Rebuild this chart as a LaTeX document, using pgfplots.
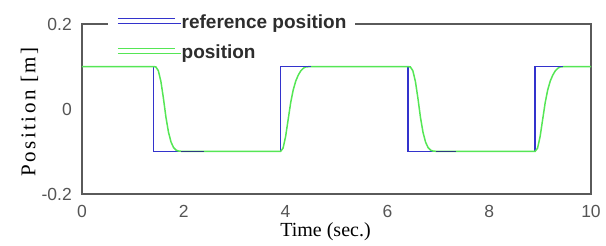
\documentclass[border=0pt]{standalone}
\usepackage{pgfplots}
\pgfplotsset{compat=1.18}
\usepackage{fontspec}
\setmainfont{Liberation Sans}
\newfontfamily\labfont[LetterSpace=12]{Liberation Serif}
\newfontfamily\xlabfont{Liberation Serif}
\definecolor{refblue}{HTML}{3333CC}
\definecolor{refdark}{HTML}{2A3A80}
\definecolor{posgreen}{HTML}{55E655}
\definecolor{framegray}{HTML}{5A5A5A}
\definecolor{tickgray}{HTML}{555555}
\definecolor{legtext}{HTML}{2D2D2D}
\begin{document}
\begin{tikzpicture}
\begin{axis}[
  scale only axis,
  width=509pt, height=170pt,
  xmin=0, xmax=10, ymin=-0.2, ymax=0.2,
  xtick={0,2,4,6,8,10},
  ytick={-0.2,0,0.2},
  yticklabels={-0.2,0,0.2},
  major tick length=0pt,
  /pgf/number format/assume math mode=true,
  tick label style={font=\fontsize{17.5}{18}\selectfont, text=tickgray},
  x tick label style={inner sep=0pt, yshift=-11pt},
  y tick label style={inner sep=0pt, xshift=-10pt},
  axis line style={draw=framegray, line width=1.3pt},
  xlabel={\xlabfont\fontsize{20}{22}\selectfont Time (sec.)},
  ylabel={\labfont\fontsize{21}{22}\selectfont Position [m]},
  xlabel style={at={([xshift=-11pt,yshift=-38pt]axis description cs:0.5,0)}, anchor=center},
  ylabel style={at={([xshift=-52.5pt,yshift=-3pt]axis description cs:0,0.5)}, anchor=center},
  legend style={at={([xshift=26pt,yshift=11pt]rel axis cs:0,1)}, anchor=north west,
    draw=none, fill=white, inner xsep=9pt, inner ysep=2pt,
    font=\bfseries\fontsize{19}{20}\selectfont, text=legtext,
    row sep=13pt,
    nodes={inner sep=0pt, text height=13pt, text depth=4pt}},
  legend cell align=left,
  legend image code/.code={\draw[#1] (0pt,5pt) -- (57pt,5pt);\path (0pt,0pt) -- (63pt,0pt);},
]
\addplot[draw=refblue, line width=1.5pt] coordinates {
(0,0.1) (1.4,0.1) (1.4,-0.1) (3.9,-0.1) (3.9,0.1) (6.4,0.1) (6.4,-0.1) (8.9,-0.1) (8.9,0.1) (10,0.1)};
\addlegendentry{reference position}
\addplot[draw=posgreen, line width=1.5pt] coordinates {
(0,0.1) (1.4,0.1) (1.45,0.099) (1.5,0.09) (1.55,0.065) (1.6,0.025) (1.65,-0.02) (1.7,-0.055) (1.75,-0.078) (1.8,-0.091) (1.85,-0.097) (1.9,-0.099) (2.0,-0.1)
(3.9,-0.1) (3.95,-0.092) (4.0,-0.065) (4.05,-0.025) (4.1,0.015) (4.15,0.045) (4.2,0.066) (4.25,0.08) (4.3,0.09) (4.35,0.096) (4.4,0.099) (4.5,0.1)
(6.4,0.1) (6.45,0.099) (6.5,0.09) (6.55,0.065) (6.6,0.025) (6.65,-0.02) (6.7,-0.055) (6.75,-0.078) (6.8,-0.091) (6.85,-0.097) (6.9,-0.099) (7.0,-0.1)
(8.9,-0.1) (8.95,-0.092) (9.0,-0.065) (9.05,-0.025) (9.1,0.015) (9.15,0.045) (9.2,0.066) (9.25,0.08) (9.3,0.09) (9.35,0.096) (9.4,0.099) (9.5,0.1) (10,0.1)};
\addlegendentry{position}
\addplot[draw=refdark, line width=1.5pt, forget plot] coordinates {(1.95,-0.1) (2.4,-0.1)};
\addplot[draw=refblue, line width=1.5pt, forget plot] coordinates {(4.35,0.1) (4.5,0.1)};
\addplot[draw=refdark, line width=1.5pt, forget plot] coordinates {(6.95,-0.1) (7.35,-0.1)};
\addplot[draw=refblue, line width=1.5pt, forget plot] coordinates {(9.3,0.1) (9.45,0.1)};
\end{axis}
\pgfresetboundingbox
\path ([shift={(-82pt,-52pt)}]current axis.south west) rectangle ([shift={(15pt,24pt)}]current axis.north east);
\end{tikzpicture}
\end{document}
